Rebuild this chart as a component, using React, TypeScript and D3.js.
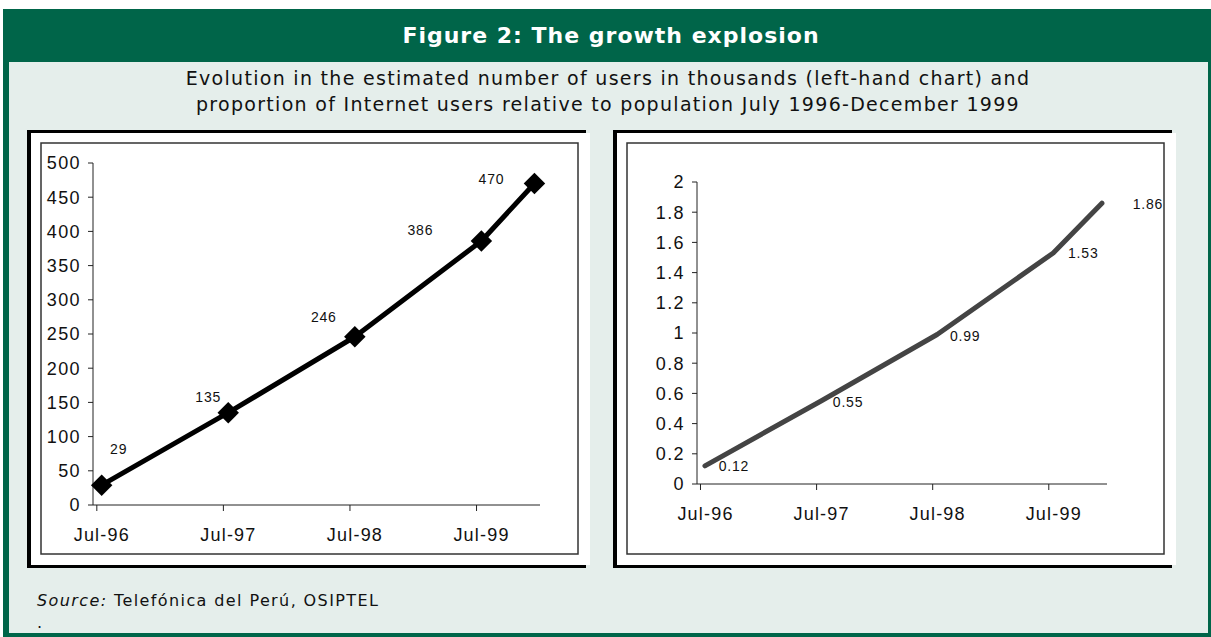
import React from 'react';
import * as d3 from 'd3';

// data
const dates = ['1996-07-15', '1997-07-15', '1998-07-15', '1999-07-15', '1999-12-15'];
const users = [29, 135, 246, 386, 470];
const share = [0.12, 0.55, 0.99, 1.53, 1.86];
const shareLabels = ['0.12', '0.55', '0.99', '1.53', '1.86'];
const xTicks = ['1996-07-01', '1997-07-01', '1998-07-01', '1999-07-01'];
const usersTicks = [0, 50, 100, 150, 200, 250, 300, 350, 400, 450, 500];
const shareTicks = [0, 0.2, 0.4, 0.6, 0.8, 1, 1.2, 1.4, 1.6, 1.8, 2];

// where the value labels sit relative to their point (left / right chart)
const usersLabelOffset = [[17, -36], [-20, -16], [-31, -20], [-61, -11], [-43, -5]];
const shareLabelOffset = [[29, 0], [27, 1], [28, 1], [30, 0], [46, 1]];

const W = 1211;
const H = 637;
const GREEN = '#006549';
const BG = '#E5EEEB';
const FONT = 'Liberation Sans, Arial, sans-serif';
const VFONT = 'DejaVu Sans, Verdana, sans-serif';

const parse = d3.timeParse('%Y-%m-%d');
const fmt = d3.timeFormat('%b-%y');
const pts = dates.map(d => parse(d) as Date);
const tickDates = xTicks.map(d => parse(d) as Date);
const domain: [Date, Date] = [parse('1996-06-20') as Date, parse('1999-12-31') as Date];

type PanelProps = {
  x0: number;
  plot: { left: number; right: number; top: number; bottom: number };
  values: number[];
  labels: string[];
  offsets: number[][];
  ticks: number[];
  yMax: number;
  lineColor: string;
  markers: boolean;
  tickLabelRight: number;
};

const Panel: React.FC<PanelProps> = ({ x0, plot, values, labels, offsets, ticks, yMax, lineColor, markers, tickLabelRight }) => {
  const x = d3.scaleTime().domain(domain).range([plot.left, plot.right]);
  const y = d3.scaleLinear().domain([0, yMax]).range([plot.bottom, plot.top]);
  const line = d3.line<number>()
    .x((_, i) => x(pts[i]))
    .y(d => y(d));
  const diamond = d3.symbol(d3.symbolSquare, 230)();

  return (
    <g>
      {/* panel: black on left, top and bottom, white inside */}
      <rect x={x0} y={130} width={559} height={438} fill="#000" />
      <rect x={x0 + 4} y={133} width={559} height={432} fill="#fff" />
      <rect x={x0 + 14} y={143} width={537} height={411} fill="none" stroke="#333" strokeWidth={1.5} />

      {/* y axis */}
      <line x1={plot.left} x2={plot.left} y1={y(yMax)} y2={plot.bottom} stroke="#222" strokeWidth={1} />
      {ticks.map(t => (
        <g key={t}>
          <line x1={plot.left - 5} x2={plot.left} y1={y(t)} y2={y(t)} stroke="#222" />
          <text x={tickLabelRight} y={y(t)} dy="0.36em" textAnchor="end" fontFamily={FONT} fontSize={18} letterSpacing={1.4} fill="#111">
            {t}
          </text>
        </g>
      ))}

      {/* x axis */}
      <line x1={plot.left} x2={plot.right} y1={plot.bottom} y2={plot.bottom} stroke="#222" />
      {tickDates.map(d => (
        <g key={+d}>
          <line x1={x(d)} x2={x(d)} y1={plot.bottom} y2={plot.bottom + 6} stroke="#222" />
          <text x={x(d) + 5} y={plot.bottom + 30} dy="0.36em" textAnchor="middle" fontFamily={FONT} fontSize={18} letterSpacing={1.2} fill="#111">
            {fmt(d)}
          </text>
        </g>
      ))}

      <path d={line(values) || ''} fill="none" stroke={lineColor} strokeWidth={5} strokeLinejoin="round" strokeLinecap="round" />
      {markers && values.map((v, i) => (
        <path key={i} d={diamond || ''} transform={`translate(${x(pts[i])},${y(v)}) rotate(45)`} fill="#000" />
      ))}
      {values.map((v, i) => (
        <text key={'l' + i} x={x(pts[i]) + offsets[i][0]} y={y(v) + offsets[i][1]} dy="0.36em" textAnchor="middle" fontFamily={FONT} fontSize={14} letterSpacing={0.8} fill="#111">
          {labels[i]}
        </text>
      ))}
    </g>
  );
};

export default function App() {
  return (
    <svg width={W} height={H} style={{ position: 'absolute', left: 0, top: 0, background: '#fff' }}>
      <rect x={3} y={9} width={1208} height={628} fill={GREEN} />
      <rect x={9} y={62} width={1199} height={571} fill={BG} />

      <text x={611} y={35} dy="0.36em" textAnchor="middle" fontFamily={VFONT} fontWeight="bold" fontSize={22} letterSpacing={1} fill="#fff">
        Figure 2: The growth explosion
      </text>
      <text x={608} y={78} dy="0.36em" textAnchor="middle" fontFamily={VFONT} fontSize={19} letterSpacing={1.3} fill="#111">
        Evolution in the estimated number of users in thousands (left-hand chart) and
      </text>
      <text x={608} y={104} dy="0.36em" textAnchor="middle" fontFamily={VFONT} fontSize={19} letterSpacing={1.3} fill="#111">
        proportion of Internet users relative to population July 1996-December 1999
      </text>

      <Panel
        x0={27}
        plot={{ left: 93, right: 540, top: 163, bottom: 505 }}
        values={users}
        labels={users.map(String)}
        offsets={usersLabelOffset}
        ticks={usersTicks}
        yMax={500}
        lineColor="#000"
        markers={true}
        tickLabelRight={81}
      />
      <Panel
        x0={613}
        plot={{ left: 697, right: 1107, top: 182, bottom: 484 }}
        values={share}
        labels={shareLabels}
        offsets={shareLabelOffset}
        ticks={shareTicks}
        yMax={2}
        lineColor="#444"
        markers={false}
        tickLabelRight={685}
      />

      <text x={37} y={600} dy="0.36em" fontFamily={VFONT} fontSize={16} letterSpacing={1.4} fill="#111">
        <tspan fontStyle="italic">Source:</tspan> Telefónica del Perú, OSIPTEL
      </text>
      <text x={37} y={622} dy="0.36em" fontFamily={VFONT} fontSize={16} fill="#111">.</text>
    </svg>
  );
}
